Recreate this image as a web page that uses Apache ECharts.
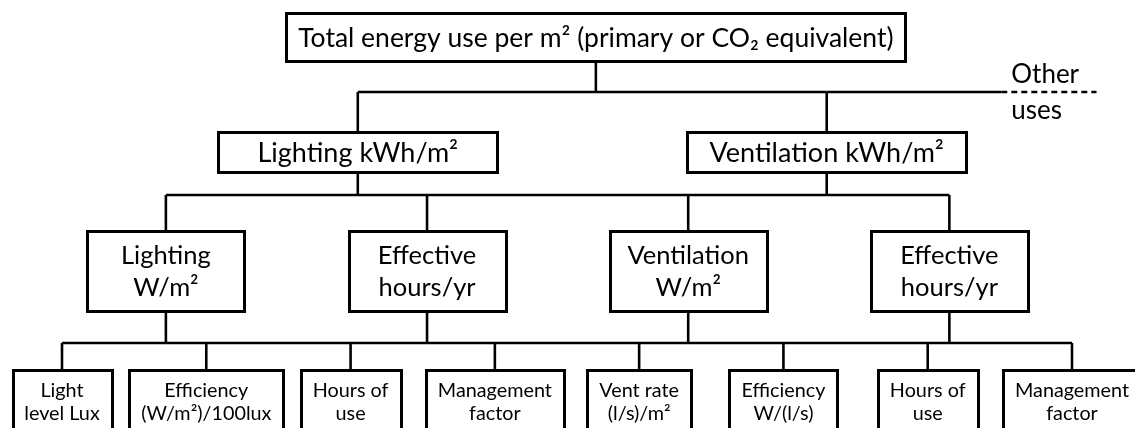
<!DOCTYPE html>
<html>
<head>
<meta charset="utf-8">
<script src="https://cdn.jsdelivr.net/npm/echarts@6/dist/echarts.min.js"></script>
<style>
html, body { margin: 0; padding: 0; background: #fff; }
#chart { width: 1135px; height: 428px; }
</style>
</head>
<body>
<div id="chart"></div>
<script>
// labels of the tree, one array per level, with the parent index of each node
var rootLabels = ['Total energy use per m\u00b2 (primary or CO\u2082 equivalent)'];
var useLabels = ['Lighting kWh/m\u00b2', 'Ventilation kWh/m\u00b2'];
var useParents = [0, 0];
var powerLabels = ['Lighting\nW/m\u00b2', 'Effective\nhours/yr', 'Ventilation\nW/m\u00b2', 'Effective\nhours/yr'];
var powerParents = [0, 0, 1, 1];
var factorLabels = ['Light\nlevel Lux', 'Efficiency\n(W/m\u00b2)/100lux', 'Hours of\nuse', 'Management\nfactor',
                    'Vent rate\n(l/s)/m\u00b2', 'Efficiency\nW/(l/s)', 'Hours of\nuse', 'Management\nfactor'];
var factorParents = [0, 0, 1, 1, 2, 2, 3, 3];
var otherLabel = 'Other\nuses';

var levels = [
    { labels: rootLabels, parents: [] },
    { labels: useLabels, parents: useParents },
    { labels: powerLabels, parents: powerParents },
    { labels: factorLabels, parents: factorParents }
];

// layout: x in leaf slots, y in level rows
var levelRow = [0, 0.95, 1.93, 3];
var levelSpan = [[3.70, 3.70], [2.05, 5.30], [0.72, 6.15], [0, 7]];
var otherSpan = [6.51, 7.17];
var busAt = [0.44, 0.39, 0.54];
var boxH = [48, 40, 80, 62];
var boxW = [619, 279, 157, 0];
var fontSize = [26.5, 27, 25.5, 19.8];
var lineH = [30, 30, 32, 23];
var otherSize = 26;
var FONT = 'Lato';

var measure = document.createElement('canvas').getContext('2d');
function textWidth(label, size) {
    measure.font = size + 'px ' + FONT;
    return Math.max.apply(null, label.split('\n').map(function (s) { return measure.measureText(s).width; }));
}

function nodeX(l, i) {
    var s = levelSpan[l], n = levels[l].labels.length;
    return n > 1 ? s[0] + (s[1] - s[0]) * i / (n - 1) : s[0];
}

var nodes = [];
levels.forEach(function (lv, l) {
    lv.labels.forEach(function (lab, i) {
        nodes.push([nodeX(l, i), levelRow[l], l, i]);
    });
});

function boxWidth(l, i) {
    return boxW[l] || Math.round(textWidth(levels[l].labels[i], fontSize[l]) + 24);
}

function renderBox(params, api) {
    var l = api.value(2), i = api.value(3);
    var p = api.coord([api.value(0), api.value(1)]);
    var w = boxWidth(l, i), h = boxH[l];
    return {
        type: 'group',
        children: [{
            type: 'rect',
            shape: { x: Math.round(p[0] - w / 2) + 0.5, y: Math.round(p[1] - h / 2) + 0.5, width: w, height: h },
            style: { fill: '#fff', stroke: '#000', lineWidth: 3 }
        }, {
            type: 'text',
            x: p[0], y: p[1] + 1,
            style: {
                text: levels[l].labels[i], fontFamily: FONT, fontSize: fontSize[l], lineHeight: lineH[l],
                fill: '#000', align: 'center', verticalAlign: 'middle'
            }
        }]
    };
}

function renderLinks(params, api) {
    var l = api.value(0);
    var kids = levels[l + 1];
    var children = [];
    var line = function (x1, y1, x2, y2, dash) {
        children.push({
            type: 'line',
            shape: { x1: x1, y1: y1, x2: x2, y2: y2 },
            style: { stroke: '#000', lineWidth: 2.6, lineDash: dash || null }
        });
    };
    var parentBottom = api.coord([0, levelRow[l]])[1] + boxH[l] / 2;
    var childTop = api.coord([0, levelRow[l + 1]])[1] - boxH[l + 1] / 2;
    var busY = Math.round(parentBottom + (childTop - parentBottom) * busAt[l]);
    var xs = kids.labels.map(function (lab, i) { return api.coord([nodeX(l + 1, i), 0])[0]; });
    var left = Math.min.apply(null, xs), right = Math.max.apply(null, xs);
    levels[l].labels.forEach(function (lab, i) {
        var px = api.coord([nodeX(l, i), 0])[0];
        line(px, parentBottom, px, busY);
    });
    if (l === 0) {
        var o = [api.coord([otherSpan[0], 0])[0], api.coord([otherSpan[1], 0])[0]];
        line(right, busY, o[0], busY);
        line(o[0], busY, o[1], busY, [6, 4]);
        children.push({
            type: 'text', x: o[0] + 10, y: busY + 1,
            style: { text: otherLabel, fontFamily: FONT, fontSize: otherSize, lineHeight: 36, fill: '#000', align: 'left', verticalAlign: 'middle' }
        });
    }
    line(left, busY, right, busY);
    xs.forEach(function (x) { line(x, busY, x, childTop); });
    return { type: 'group', children: children };
}

var chart = echarts.init(document.getElementById('chart'));
chart.setOption({
    backgroundColor: '#fff',
    animation: false,
    grid: { left: 62, right: 63, top: 37, bottom: 27 },
    xAxis: { type: 'value', min: 0, max: 7, show: false },
    yAxis: { type: 'value', min: 0, max: 3, inverse: true, show: false },
    series: [{
        type: 'custom',
        clip: false,
        data: [[0], [1], [2]],
        encode: { x: -1, y: -1 },
        renderItem: renderLinks,
        z: 1
    }, {
        type: 'custom',
        clip: false,
        data: nodes,
        encode: { x: 0, y: 1 },
        renderItem: renderBox,
        z: 2
    }]
});
</script>
</body>
</html>
